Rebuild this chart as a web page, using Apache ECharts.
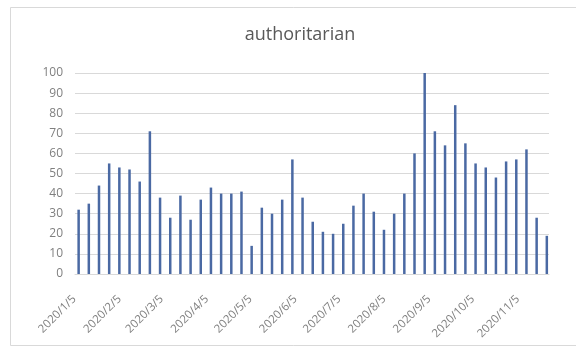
<!DOCTYPE html>
<html>
<head>
<meta charset="utf-8">
<script src="https://cdn.jsdelivr.net/npm/echarts@6/dist/echarts.min.js"></script>
<style>
  html, body { margin: 0; padding: 0; background: #fff; }
  #chart { width: 576px; height: 349px; }
</style>
</head>
<body>
<div id="chart"></div>
<script>
// Weekly counts, one per Sunday starting 2020/1/5
const weekStart = [2020, 1, 5];
const weeklyValues = [
  32, 35, 44, 55, 53, 52, 46, 71, 38, 28,
  39, 27, 37, 43, 40, 40, 41, 14, 33, 30,
  37, 57, 38, 26, 21, 20, 25, 34, 40, 31,
  22, 30, 40, 60, 100, 71, 64, 84, 65, 55,
  53, 48, 56, 57, 62, 28, 19
];
// Date axis runs daily, with two spare days before the first week and one after the last
const padBefore = 2;
const padAfter = 1;
const yTicks = [0, 10, 20, 30, 40, 50, 60, 70, 80, 90, 100];
const titleText = 'authoritarian';

function fmt(d) {
  return d.getFullYear() + '/' + (d.getMonth() + 1) + '/' + d.getDate();
}

const startDate = new Date(weekStart[0], weekStart[1] - 1, weekStart[2]);
const totalDays = padBefore + (weeklyValues.length - 1) * 7 + 1 + padAfter;
const days = [];
const dayValues = [];
for (let i = 0; i < totalDays; i++) {
  const d = new Date(startDate.getTime());
  d.setDate(d.getDate() + i - padBefore);
  days.push(fmt(d));
  const off = i - padBefore;
  dayValues.push(off >= 0 && off % 7 === 0 ? weeklyValues[off / 7] : null);
}

const chart = echarts.init(document.getElementById('chart'), null, { renderer: 'canvas' });
chart.setOption({
  animation: false,
  backgroundColor: '#ffffff',
  graphic: [{
    type: 'rect',
    shape: { x: 10.5, y: 7.5, width: 600, height: 338 },
    style: { fill: 'none', stroke: '#d9d9d9', lineWidth: 1 },
    silent: true,
    z: -1
  }, {
    type: 'text',
    x: 300,
    y: 35,
    style: {
      text: titleText,
      fontFamily: 'Open Sans',
      fontSize: 18,
      fill: '#595959',
      align: 'center',
      verticalAlign: 'middle'
    },
    silent: true
  }],
  grid: { left: 75, right: 27, top: 73, bottom: 75, containLabel: false },
  xAxis: {
    type: 'category',
    data: days,
    boundaryGap: true,
    axisLine: { lineStyle: { color: '#d9d9d9' } },
    axisTick: { show: false },
    axisLabel: {
      rotate: 45,
      margin: 19,
      padding: [0, 6, 0, 0],
      fontFamily: 'Open Sans',
      fontSize: 11.5,
      color: '#7f7f7f',
      interval: function (idx, val) { return val.split('/')[2] === '5'; }
    },
    splitLine: { show: false }
  },
  yAxis: {
    type: 'value',
    min: yTicks[0],
    max: yTicks[yTicks.length - 1],
    interval: yTicks[1] - yTicks[0],
    axisLine: { show: false },
    axisTick: { show: false },
    axisLabel: { fontFamily: 'Open Sans', fontSize: 12, color: '#7f7f7f', margin: 12 },
    splitLine: { lineStyle: { color: '#d9d9d9', width: 1 } }
  },
  series: [{
    type: 'bar',
    data: dayValues,
    barWidth: 2.5,
    barGap: '0%',
    itemStyle: { color: '#4a69a3' }
  }]
});
</script>
</body>
</html>
